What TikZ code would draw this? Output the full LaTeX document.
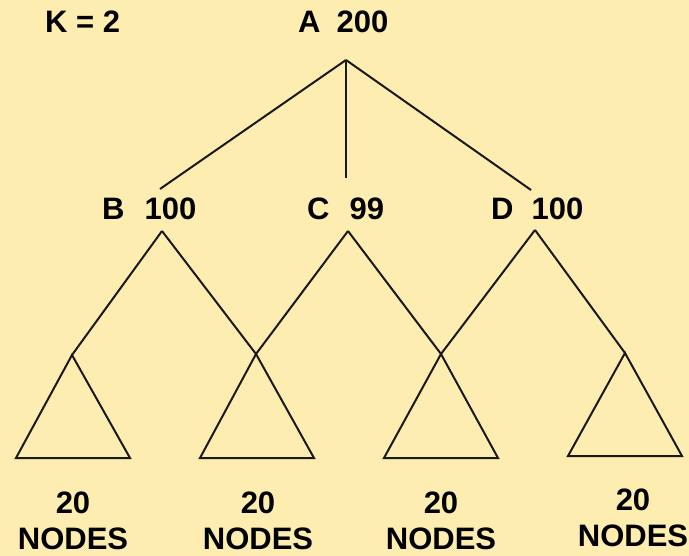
\documentclass[tikz,border=0pt]{standalone}
\usepackage{fontspec}
\setmainfont{Liberation Sans}
\usepackage{xcolor}
\usetikzlibrary{positioning}
\definecolor{paper}{HTML}{FDEDB0}

\begin{document}
\begin{tikzpicture}[
  x=1pt, y=-1pt,
  every node/.style={font=\fontsize{31}{36}\selectfont\bfseries, inner sep=0pt},
  lbl/.style={anchor=base west},
  cnt/.style={anchor=north, align=center},
  edge/.style={line width=2pt, black!90},
  tri/.style={line width=2pt, black!90, line join=miter}
]

%% Background
\fill[paper] (0,0) rectangle (689,556);
\useasboundingbox (0,0) rectangle (689,556);

%% Labels
\node[lbl] (k) at (45,33) {K = 2};
\node[lbl] (a) at (298,33) {A\hspace{16pt}200};
\node[lbl] (b) at (102,220) {B\hspace{20pt}100};
\node[lbl] (c) at (307,220) {C\hspace{20pt}99};
\node[lbl] (d) at (491,220) {D\hspace{18pt}100};

%% Branch points
\coordinate (rA) at (346,60);
\coordinate (eB) at (160,189);
\coordinate (eC) at (346,178);
\coordinate (eD) at (531,190);
\coordinate (rB) at (162,231);
\coordinate (rC) at (348,231);
\coordinate (rD) at (535,230);

%% Subtree tops
\coordinate (t1) at (72,355);
\coordinate (t2) at (256,354);
\coordinate (t3) at (441,354);
\coordinate (t4) at (625,353);

%% ---- Edges ----
% A -> B, C, D
\draw[edge] (rA) -- (eB);
\draw[edge] (rA) -- (eC);
\draw[edge] (rA) -- (eD);

% B, C, D -> subtrees
\draw[edge] (rB) -- (t1);
\draw[edge] (rB) -- (t2);
\draw[edge] (rC) -- (t2);
\draw[edge] (rC) -- (t3);
\draw[edge] (rD) -- (t3);
\draw[edge] (rD) -- (t4);

%% ---- Subtrees ----
\draw[tri] (t1) -- ++(-56,103) -- ++(114,0) -- cycle;
\draw[tri] (t2) -- ++(-56,104) -- ++(114,0) -- cycle;
\draw[tri] (t3) -- ++(-57,104) -- ++(114,0) -- cycle;
\draw[tri] (t4) -- ++(-57,103) -- ++(114,0) -- cycle;

%% Subtree sizes
\node[cnt] (n1) at (73,492) {20\\NODES};
\node[cnt] (n2) at (258,492) {20\\NODES};
\node[cnt] (n3) at (441,492) {20\\NODES};
\node[cnt] (n4) at (633,489) {20\\NODES};

\end{tikzpicture}
\end{document}
